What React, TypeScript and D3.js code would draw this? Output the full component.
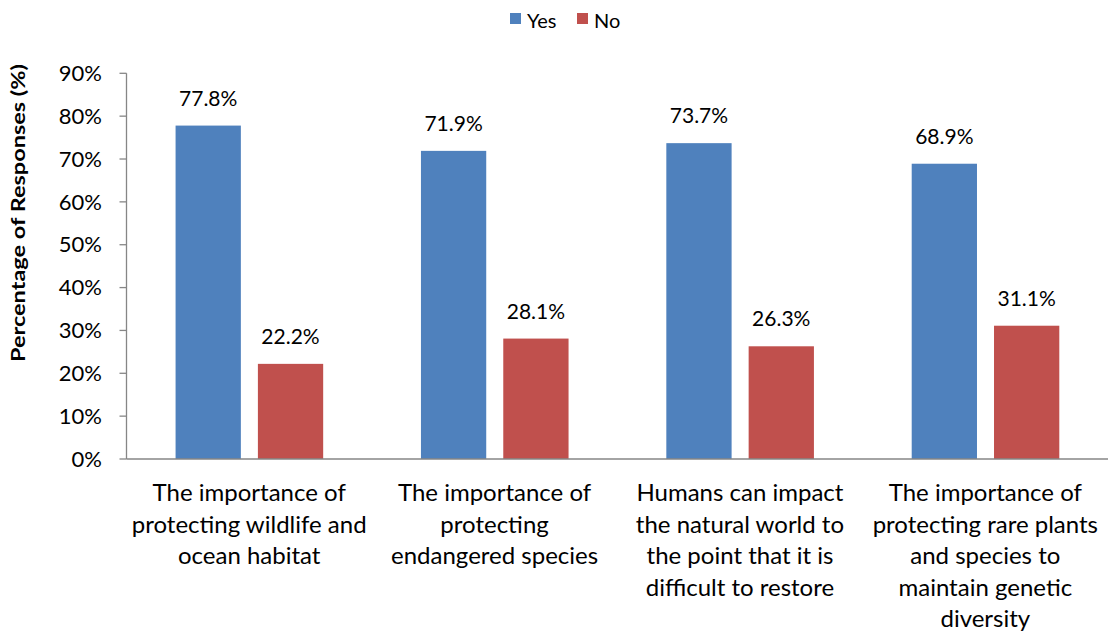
import React from "react";
import * as d3 from "d3";

const categories: string[][] = [
  ["The importance of", "protecting wildlife and", "ocean habitat"],
  ["The importance of", "protecting", "endangered species"],
  ["Humans can impact", "the natural world to", "the point that it is", "difficult to restore"],
  ["The importance of", "protecting rare plants", "and species to", "maintain genetic", "diversity"],
];
const seriesNames = ["Yes", "No"];
const yesValues = [77.8, 71.9, 73.7, 68.9];
const noValues = [22.2, 28.1, 26.3, 31.1];
const yTicks = [0, 10, 20, 30, 40, 50, 60, 70, 80, 90];
const colors = ["#4F81BD", "#C0504D"];

const W = 1109;
const H = 634;
const FONT = "Lato, 'Open Sans', sans-serif";

export default function App() {
  const x0 = 126.5;
  const x1 = 1108;
  const yTop = 73.3;
  const yBot = 459;
  const x = d3.scaleBand<number>().domain(categories.map((_, i) => i)).range([x0, x1]).padding(0);
  const bw = x.bandwidth();
  const inner = d3
    .scaleBand<string>()
    .domain(seriesNames)
    .range([bw * 0.2, bw * 0.2 + 147.6])
    .paddingInner(0.207)
    .paddingOuter(0);
  const y = d3.scaleLinear().domain([0, 90]).range([yBot, yTop]);
  const values = [yesValues, noValues];
  const axisColor = "#868686";

  return (
    <svg width={W} height={H} style={{ position: "absolute", left: 0, top: 0 }} fontFamily={FONT}>
      <rect x={0} y={0} width={W} height={H} fill="#fff" />
      {/* legend */}
      <g>
        <rect x={510} y={13} width={11} height={11} fill={colors[0]} />
        <text x={527} y={28} fontSize={20} fill="#000">Yes</text>
        <rect x={577} y={13} width={11} height={11} fill={colors[1]} />
        <text x={594} y={28} fontSize={20} fill="#000">No</text>
      </g>
      {/* y axis */}
      <line x1={x0} x2={x0} y1={yTop} y2={yBot} stroke={axisColor} strokeWidth={1.3} />
      {yTicks.map((t) => (
        <g key={t}>
          <line x1={x0 - 7} x2={x0} y1={y(t)} y2={y(t)} stroke={axisColor} strokeWidth={1.3} />
          <text x={102} y={y(t)} dy="0.35em" textAnchor="end" fontSize={22} fill="#000">
            {t}%
          </text>
        </g>
      ))}
      <text
        transform={`translate(25, 213) rotate(-90)`}
        textAnchor="middle"
        fontSize={18}
        fontWeight="bold"
        fill="#000"
        textLength={298}
        lengthAdjust="spacingAndGlyphs"
      >
        Percentage of Responses (%)
      </text>
      {/* bars */}
      {categories.map((_, ci) =>
        seriesNames.map((s, si) => {
          const v = values[si][ci];
          const bx = (x(ci) as number) + (inner(s) as number);
          const ib = inner.bandwidth();
          return (
            <g key={`${ci}-${si}`}>
              <rect x={bx} y={y(v)} width={ib} height={yBot - y(v)} fill={colors[si]} />
              <text x={bx + ib / 2} y={y(v) - 20} textAnchor="middle" fontSize={21} fill="#000">
                {v.toFixed(1)}%
              </text>
            </g>
          );
        })
      )}
      {/* x axis */}
      <line x1={x0} x2={x1} y1={yBot} y2={yBot} stroke={axisColor} strokeWidth={1.3} />
      {categories.map((lines, ci) => (
        <text key={ci} textAnchor="middle" fontSize={24} fill="#000">
          {lines.map((l, li) => (
            <tspan key={li} x={(x(ci) as number) + bw / 2} y={501 + li * 31.6}>
              {l}
            </tspan>
          ))}
        </text>
      ))}
    </svg>
  );
}
